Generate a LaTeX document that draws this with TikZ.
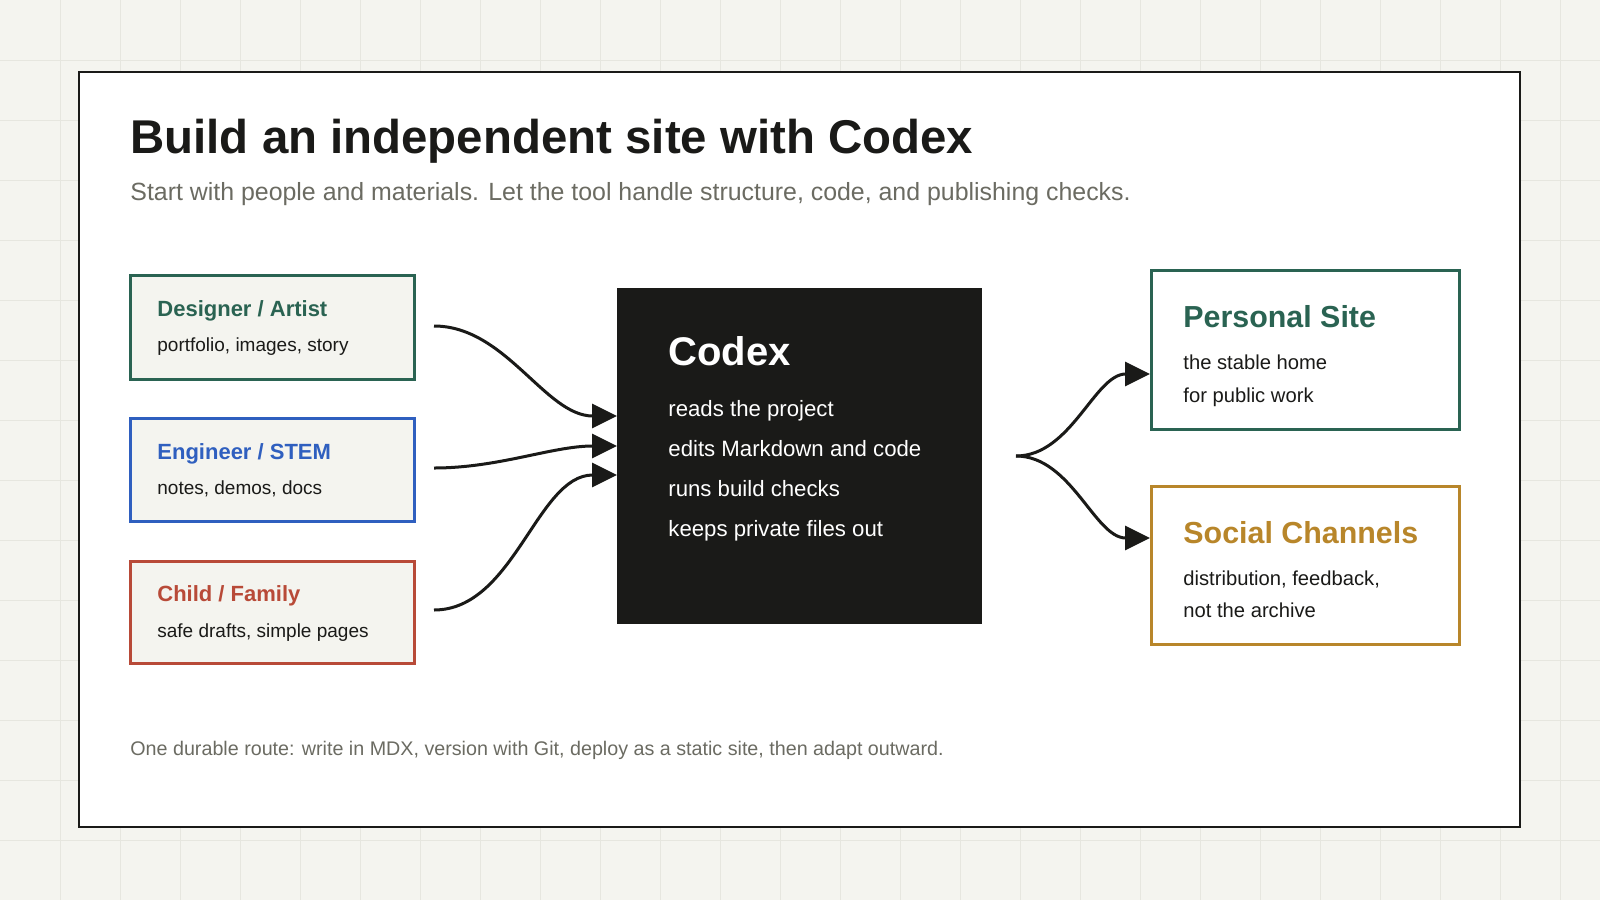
\documentclass[tikz,border=0pt]{standalone}
\usepackage{fontspec}
\setmainfont{Liberation Sans}
\usetikzlibrary{arrows.meta, positioning}
\definecolor{paper}{HTML}{F4F4EF}
\definecolor{gridline}{HTML}{E6E6DF}
\definecolor{ink}{HTML}{1A1A18}
\definecolor{muted}{HTML}{6B6B62}
\definecolor{artist}{HTML}{2A6352}
\definecolor{stem}{HTML}{2F5FBF}
\definecolor{family}{HTML}{B84A38}
\definecolor{social}{HTML}{B8862A}
\tikzset{
  card/.style={
    draw=#1,
    line width=1.5pt,
    fill=paper,
    anchor=north west,
    inner sep=0pt
  },
  head/.style={
    anchor=base west,
    inner sep=0pt,
    font=\bfseries\fontsize{11}{13}\selectfont,
    text=#1
  },
  body/.style={
    anchor=base west,
    inner sep=0pt,
    font=\fontsize{9.5}{11}\selectfont,
    text=ink
  },
  flow/.style={
    -{Triangle[length=12.5pt, width=12pt]},
    line width=1.5pt,
    draw=ink
  }
}
\begin{document}
\begin{tikzpicture}[x=0.5pt, y=-0.5pt]
        % Background and frame
        \fill[paper] (0,0) rectangle (1600,900);
        \useasboundingbox (0,0) rectangle (1600,900);
        \foreach \gx in {60,120,...,1560} \draw[gridline, line width=0.5pt] (\gx,0) -- (\gx,900);
        \foreach \gy in {60,120,...,840} \draw[gridline, line width=0.5pt] (0,\gy) -- (1600,\gy);
        \draw[ink, fill=white, line width=1.3pt] (79,72) rectangle (1520,827);

        % Heading
        \node (title) [anchor=base west, inner sep=0pt, text=ink,
          font=\bfseries\fontsize{23.7}{28}\selectfont] at (130,153) {Build an independent site with Codex};
        \node (subtitle) [anchor=base west, inner sep=0pt, text=muted,
          font=\fontsize{12.45}{15}\selectfont] at (130,200)
          {Start with people and materials. Let the tool handle structure, code, and publishing checks.};

        % Sources
        \node[card=artist, minimum width=142pt, minimum height=52pt] (artist) at (129,274) {};
        \node[head=artist] (artist-t) at (157,316) {Designer / Artist};
        \node[body] (artist-b) at (157,351) {portfolio, images, story};

        \node[card=stem, minimum width=142pt, minimum height=51.5pt] (stem) at (129,417) {};
        \node[head=stem] (stem-t) at (157,459) {Engineer / STEM};
        \node[body] (stem-b) at (157,494) {notes, demos, docs};

        \node[card=family, minimum width=142pt, minimum height=51pt] (family) at (129,560) {};
        \node[head=family] (family-t) at (157,601) {Child / Family};
        \node[body] (family-b) at (157,637) {safe drafts, simple pages};

        % Codex
        \node[fill=ink, anchor=north west, minimum width=182.5pt, minimum height=168pt, inner sep=0pt] (codex) at (617,288) {};
        \node[anchor=base west, inner sep=0pt, text=white,
          font=\bfseries\fontsize{20}{24}\selectfont] (codex-t) at (668,365) {Codex};
        \node[body, text=white, font=\fontsize{11.1}{13}\selectfont] (c1) at (668,416) {reads the project};
        \node[body, text=white, font=\fontsize{11.1}{13}\selectfont] (c2) at (668,456) {edits Markdown and code};
        \node[body, text=white, font=\fontsize{11.1}{13}\selectfont] (c3) at (668,496) {runs build checks};
        \node[body, text=white, font=\fontsize{11.1}{13}\selectfont] (c4) at (668,536) {keeps private files out};

        % Outputs
        \node[card=artist, fill=white, minimum width=154pt, minimum height=79.5pt] (site) at (1150,269) {};
        \node[head=artist, font=\bfseries\fontsize{15.2}{18}\selectfont] (site-t) at (1183,327) {Personal Site};
        \node[body, font=\fontsize{10.1}{12}\selectfont] (site-b1) at (1183,369) {the stable home};
        \node[body, font=\fontsize{10.1}{12}\selectfont] (site-b2) at (1183,402) {for public work};

        \node[card=social, fill=white, minimum width=154pt, minimum height=79pt] (channels) at (1150,485) {};
        \node[head=social, font=\bfseries\fontsize{15.2}{18}\selectfont] (channels-t) at (1183,543) {Social Channels};
        \node[body, font=\fontsize{10.1}{12}\selectfont] (channels-b1) at (1183,585) {distribution, feedback,};
        \node[body, font=\fontsize{10.1}{12}\selectfont] (channels-b2) at (1183,617) {not the archive};

        % Connector ends
        \coordinate (artist-out) at (434,326);
        \coordinate (stem-out)   at (434,468);
        \coordinate (family-out) at (434,610);
        \coordinate (codex-in1)  at (617,416);
        \coordinate (codex-in2)  at (617,446);
        \coordinate (codex-in3)  at (617,475);
        \coordinate (codex-out)  at (1016,456);
        \coordinate (site-in)    at (1150,374);
        \coordinate (channels-in) at (1150,538);

        \draw[flow] (artist-out) to[out=0, in=180, looseness=0.9] (codex-in1);
        \draw[flow] (stem-out)   to[out=0, in=180, looseness=0.9] (codex-in2);
        \draw[flow] (family-out) to[out=0, in=180, looseness=0.9] (codex-in3);
        \draw[flow] (codex-out)  to[out=0, in=180, looseness=0.9] (site-in);
        \draw[flow] (codex-out)  to[out=0, in=180, looseness=0.9] (channels-in);

        % Footer
        \node[anchor=base west, inner sep=0pt, text=muted, font=\fontsize{9.85}{11}\selectfont] (footer) at (130,755)
          {One durable route: write in MDX, version with Git, deploy as a static site, then adapt outward.};
\end{tikzpicture}
\end{document}
